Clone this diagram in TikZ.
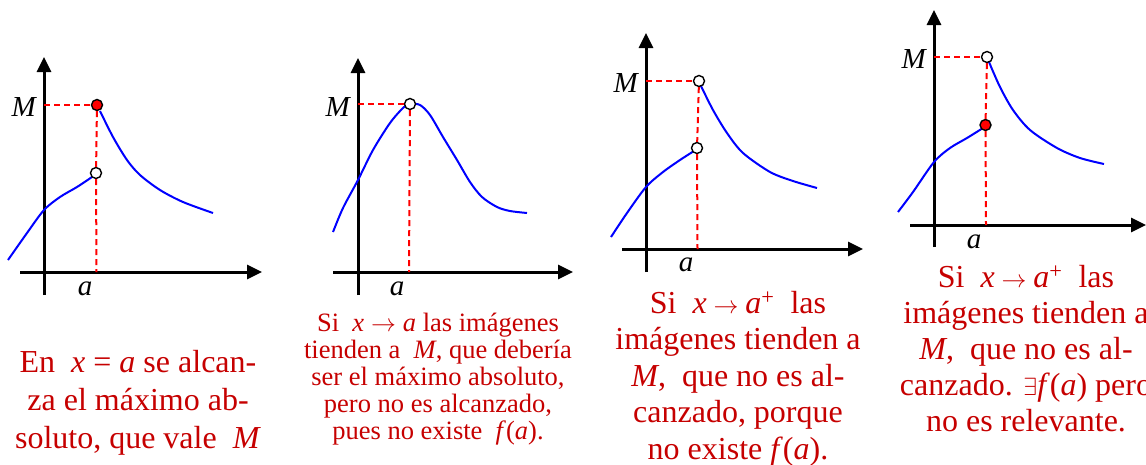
\documentclass[tikz,border=0pt]{standalone}
\usepackage{fontspec}
\setmainfont{Liberation Serif}
\usetikzlibrary{arrows.meta}
\definecolor{capred}{RGB}{198,0,0}

\tikzset{
  axis/.style={line width=3pt,-{Triangle[length=15pt,width=14pt]}},
  curve/.style={blue,line width=2pt},
  guide/.style={red,line width=2pt,dash pattern=on 6pt off 4pt},
  dot/.style={circle,draw=black,line width=1.4pt,minimum size=11pt,inner sep=0pt},
  holept/.style={dot,fill=white},
  fullpt/.style={dot,fill=red},
  axlabel/.style={font=\fontsize{29}{29}\selectfont\itshape,inner sep=0pt},
  caption/.style={text=capred,align=center,inner sep=0pt,anchor=north}
}
\newcommand{\tendsto}{${}\rightarrow{}$}

\begin{document}
\begin{tikzpicture}[x=1pt,y=-1pt]
\useasboundingbox (0,0) rectangle (1146,464);

% primer panel
\draw[axis] (20,272) -- (262,272);
\draw[axis] (44,295) -- (44,57);
\draw[curve] plot[smooth] coordinates {(8,260) (27,233) (44,210) (60,197) (77,187) (92,177)};
\draw[curve] plot[smooth] coordinates {(100,111) (113,137) (127,160) (140,175) (160,190) (183,202) (213,213)};
\coordinate (m1) at (44,105);
\coordinate (a1) at (96.5,272);
\node[fullpt] (p1top) at (97,105) {};
\node[holept] (p1hole) at (96,173) {};
\draw[guide] (m1) -- (p1top);
\draw[guide] (p1top) -- (p1hole);
\draw[guide] (p1hole) -- (a1);
\node[axlabel,anchor=base east] (lm1) at (36,116) {M};
\node[axlabel,anchor=base] (la1) at (85,295) {a};
\node[caption,font=\fontsize{32}{38}\selectfont] (c1) at (138,350)
  {En \ \textit{x} = \textit{a} se alcan-\\za el máximo ab-\\soluto, que vale \ \textit{M}};

% segundo panel
\draw[axis] (333,272) -- (573,272);
\draw[axis] (358,295) -- (358,58);
\draw[curve] plot[smooth] coordinates {(333,232) (343,208) (358,180) (373,150) (390,123) (403,108) (410,104) (420,105) (430,115) (443,137) (457,160) (470,182) (482,197) (497,207) (510,211) (527,213)};
\coordinate (m2) at (358,104);
\coordinate (a2) at (409,272);
\node[holept] (p2) at (410,104) {};
\draw[guide] (m2) -- (p2);
\draw[guide] (p2) -- (a2);
\node[axlabel,anchor=base east] (lm2) at (350,116) {M};
\node[axlabel,anchor=base] (la2) at (397,295) {a};
\node[caption,font=\fontsize{26.5}{27}\selectfont] (c2) at (438,313)
  {Si \ \textit{x}\tendsto\textit{a} las imágenes\\tienden a \ \textit{M}, que debería\\ser el máximo absoluto,\\pero no es alcanzado,\\pues no existe \ \textit{f}(\textit{a}).};

% tercer panel
\draw[axis] (622,249) -- (863,249);
\draw[axis] (646,272) -- (646,33);
\draw[curve] plot[smooth] coordinates {(611,237) (627,213) (646,187) (663,172) (680,160) (694,151)};
\draw[curve] plot[smooth] coordinates {(701,86) (713,110) (727,133) (743,153) (770,172) (793,181) (817,188)};
\coordinate (m3) at (646,81);
\coordinate (a3) at (697.5,249);
\node[holept] (p3top) at (699,81) {};
\node[holept] (p3hole) at (697,148) {};
\draw[guide] (m3) -- (p3top);
\draw[guide] (p3top) -- (p3hole);
\draw[guide] (p3hole) -- (a3);
\node[axlabel,anchor=base east] (lm3) at (638,92) {M};
\node[axlabel,anchor=base] (la3) at (686,271) {a};
\node[caption,font=\fontsize{32}{36.5}\selectfont] (c3) at (738,291)
  {Si \ \textit{x}\tendsto\textit{a}\textsuperscript{+} \ las\\imágenes tienden a\\\textit{M}, \ que no es al-\\canzado, porque\\no existe \textit{f}(\textit{a}).};

% cuarto panel
\draw[axis] (910,225) -- (1146,225);
\draw[axis] (934,247) -- (934,10);
\draw[curve] plot[smooth] coordinates {(898,212) (913,192) (934,162) (950,148) (967,138) (983,128)};
\draw[curve] plot[smooth] coordinates {(989,62) (1000,87) (1013,110) (1030,130) (1057,148) (1080,158) (1104,164)};
\coordinate (m4) at (934,57);
\coordinate (a4) at (986,225);
\node[holept] (p4top) at (987,57) {};
\node[fullpt] (p4full) at (985.5,125) {};
\draw[guide] (m4) -- (p4top);
\draw[guide] (p4top) -- (p4full);
\draw[guide] (p4full) -- (a4);
\node[axlabel,anchor=base east] (lm4) at (926,68) {M};
\node[axlabel,anchor=base] (la4) at (974,248) {a};
\node[caption,font=\fontsize{32}{36}\selectfont] (c4) at (1026,265)
  {Si \ \textit{x}\tendsto\textit{a}\textsuperscript{+} \ las\\imágenes tienden a\\\textit{M}, \ que no es al-\\canzado. $\exists$\textit{f}(\textit{a}) pero\\no es relevante.};

\end{tikzpicture}
\end{document}
